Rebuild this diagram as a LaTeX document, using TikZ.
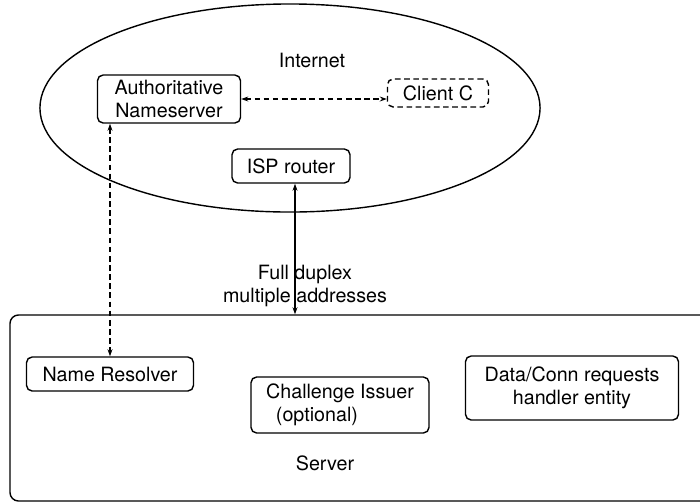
\documentclass[tikz,border=0pt]{standalone}
\usepackage{fontspec}
\setsansfont{TeX Gyre Heros}
\usetikzlibrary{positioning, arrows.meta}

\begin{document}
\begin{tikzpicture}[
    x=0.025cm, y=-0.025cm,
    every node/.style={font=\sffamily\fontsize{14}{16}\selectfont},
    box/.style={
        draw,
        rounded corners=4pt,
        align=center,
        line width=1pt,
        inner sep=2pt
    },
    dashbox/.style={box, dash pattern=on 4pt off 2.5pt},
    link/.style={{Stealth[length=5pt,width=3.5pt]}-{Stealth[length=5pt,width=3.5pt]}, line width=0.9pt},
    dashlink/.style={link, dash pattern=on 4pt off 2.5pt}
]

\clip (0,0) rectangle (700,502);

%% ── Internet cloud ───────────────────────────────────────────────────────────
\draw[line width=1pt] (290,108) ellipse [x radius=6.25cm, y radius=2.6cm];
\node (internet) at (312,60) {Internet};

%% ── Internet side nodes ──────────────────────────────────────────────────────
\node[box, minimum width=143*0.025cm, minimum height=48*0.025cm] (auth) at (169,99)
    {Authoritative\\Nameserver};
\node[dashbox, minimum width=101*0.025cm, minimum height=28*0.025cm] (client) at (438,93)
    {Client C};
\node[box, minimum width=118*0.025cm, minimum height=34*0.025cm] (isp) at (291,166)
    {ISP router};

%% ── Server box ───────────────────────────────────────────────────────────────
\node[draw, rounded corners=6pt, line width=1pt,
      minimum width=710*0.025cm, minimum height=186*0.025cm] (server) at (365,408) {};
\node (serverlabel) at (325,463) {Server};

\node[box, minimum width=167*0.025cm, minimum height=34*0.025cm] (resolver) at (110,374)
    {Name Resolver};
\node[box, align=left, minimum width=178*0.025cm, minimum height=56*0.025cm] (challenge) at (340,405)
    {Challenge Issuer\\\hspace*{0.5em}(optional)};
\node[box, minimum width=213*0.025cm, minimum height=64*0.025cm] (handler) at (572,388)
    {Data/Conn requests\\handler entity};

%% ── Connectors ───────────────────────────────────────────────────────────────
\draw[dashlink] (auth.east) -- (auth.east -| client.west);
\draw[dashlink] (auth.south -| resolver.north) -- (resolver.north);
\draw[link] ([xshift=4*0.025cm]isp.south) -- ([xshift=4*0.025cm]isp.south |- server.north);

\node[align=center] (duplex) at (305,286) {Full duplex\\multiple addresses};

\end{tikzpicture}
\end{document}
